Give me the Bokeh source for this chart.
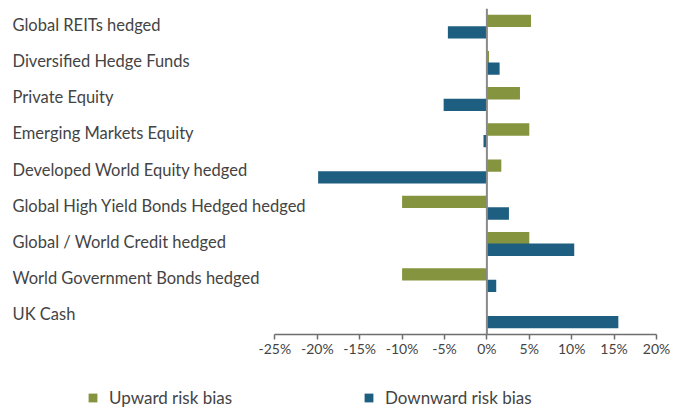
from bokeh.plotting import figure
from bokeh.layouts import column
from bokeh.models import (FactorRange, Range1d, Span, FixedTicker, PrintfTickFormatter,
                          ColumnDataSource, Legend, LegendItem)
from bokeh.transform import dodge
from bokeh.core.properties import value
from bokeh.embed import file_html
from bokeh.resources import INLINE

categories = [
    "Global REITs hedged",
    "Diversified Hedge Funds",
    "Private Equity",
    "Emerging Markets Equity",
    "Developed World Equity hedged",
    "Global High Yield Bonds Hedged hedged",
    "Global / World Credit hedged",
    "World Government Bonds hedged",
    "UK Cash",
]
upward = [5.2, 0.25, 3.9, 5.0, 1.7, -10.0, 5.0, -10.0, 0.0]
downward = [-4.6, 1.5, -5.1, -0.4, -19.9, 2.6, 10.3, 1.1, 15.5]
tick_values = [-25, -20, -15, -10, -5, 0, 5, 10, 15, 20]
series_names = ["Upward risk bias", "Downward risk bias"]

GREEN = "#85943E"
BLUE = "#1E5E80"
FONT = "Lato"
X_START = -55.94
X_END = 20

src = ColumnDataSource(dict(cat=categories, up=upward, down=downward,
                            x0=[X_START] * len(categories)))

p = figure(width=689, height=372, output_backend="svg", toolbar_location=None,
           y_range=FactorRange(factors=list(reversed(categories)), range_padding=0),
           x_range=Range1d(X_START, X_END),
           min_border_left=12, min_border_right=33, min_border_top=8, min_border_bottom=38)
p.outline_line_color = None
p.xgrid.visible = False
p.ygrid.visible = False
p.yaxis.visible = False

p.hbar(y=dodge("cat", 0.16, range=p.y_range), right="up", left=0, height=0.34,
       source=src, fill_color=GREEN, line_color=None)
p.hbar(y=dodge("cat", -0.16, range=p.y_range), right="down", left=0, height=0.34,
       source=src, fill_color=BLUE, line_color=None)

p.add_layout(Span(location=0, dimension="height", line_color="#8a8a8a", line_width=2))

p.text(x="x0", y="cat", text="cat", source=src, text_align="left", text_baseline="middle",
       y_offset=-2, text_font=value(FONT), text_font_size="16.5px", text_color="#444444")

ax = p.xaxis[0]
ax.ticker = FixedTicker(ticks=tick_values)
ax.formatter = PrintfTickFormatter(format="%d%%")
ax.bounds = (tick_values[0], tick_values[-1])
ax.axis_line_color = "#6e6e6e"
ax.axis_line_width = 1.5
ax.major_tick_line_color = "#6e6e6e"
ax.major_tick_line_width = 1.5
ax.major_tick_in = 0
ax.major_tick_out = 5
ax.minor_tick_line_color = None
ax.major_label_standoff = 0
ax.major_label_text_font = FONT
ax.major_label_text_font_size = "14px"
ax.major_label_text_color = "#444444"

# legend strip: the series bars lie outside this strip's view and only supply the swatches
lg = figure(width=689, height=37, output_backend="svg", toolbar_location=None,
            x_range=Range1d(1000, 1001), y_range=Range1d(1000, 1001),
            min_border_left=0, min_border_right=0, min_border_top=0, min_border_bottom=0)
lg.outline_line_color = None
lg.xaxis.visible = False
lg.yaxis.visible = False
lg.xgrid.visible = False
lg.ygrid.visible = False
g_up = lg.hbar(y="up", right="up", left=0, height=0.1, source=src,
               fill_color=GREEN, line_color=None)
g_dn = lg.hbar(y="down", right="down", left=0, height=0.1, source=src,
               fill_color=BLUE, line_color=None)

legend = Legend(items=[LegendItem(label=series_names[0], renderers=[g_up]),
                       LegendItem(label=series_names[1], renderers=[g_dn])],
                orientation="horizontal", location=(75, 1),
                glyph_width=11, glyph_height=11, label_standoff=11, label_width=254,
                label_height=14, spacing=0, padding=0, margin=0,
                label_text_font=FONT, label_text_font_size="17px", label_text_color="#444444",
                background_fill_alpha=0, border_line_alpha=0)
lg.add_layout(legend, "center")

layout = column(p, lg, spacing=0)
open("out.html", "w").write(file_html(layout, INLINE))
